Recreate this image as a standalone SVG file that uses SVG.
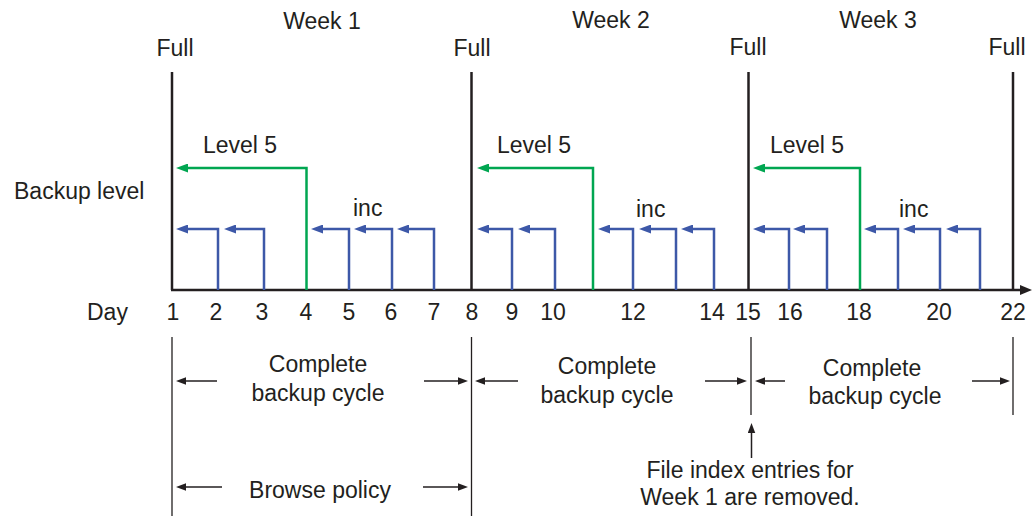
<svg xmlns="http://www.w3.org/2000/svg" width="1034" height="516" viewBox="0 0 1034 516">
<style>
text{font-family:"Liberation Sans",Arial,sans-serif;font-size:23px;fill:#231f20}
.m{text-anchor:middle}
.full{stroke:#231f20;stroke-width:2.5;fill:none}
.thin{stroke:#231f20;stroke-width:1.3;fill:none}
.g{stroke:#00a651;stroke-width:2.5;fill:none}
.b{stroke:#3d58a8;stroke-width:2.5;fill:none}
.sa{stroke:#231f20;stroke-width:1.5;fill:none}
</style>
<defs>
<marker id="ag" markerUnits="userSpaceOnUse" markerWidth="13" markerHeight="9" refX="2" refY="4.5" orient="auto"><path d="M0,0 L12,4.5 L0,9 z" fill="#00a651"/></marker>
<marker id="ab" markerUnits="userSpaceOnUse" markerWidth="13" markerHeight="9" refX="2" refY="4.5" orient="auto"><path d="M0,0 L12,4.5 L0,9 z" fill="#3d58a8"/></marker>
<marker id="ak" markerUnits="userSpaceOnUse" markerWidth="11" markerHeight="8" refX="1" refY="3.75" orient="auto"><path d="M0,0 L10,3.75 L0,7.5 z" fill="#231f20"/></marker>
<marker id="ax" markerUnits="userSpaceOnUse" markerWidth="13" markerHeight="10" refX="1" refY="5" orient="auto"><path d="M0,0 L12,5 L0,10 z" fill="#231f20"/></marker>
</defs>

<g id="labels">
<text class="m" x="322" y="29">Week 1</text>
<text class="m" x="611" y="28">Week 2</text>
<text class="m" x="878" y="28">Week 3</text>
<text class="m" x="175" y="56">Full</text>
<text class="m" x="472" y="56">Full</text>
<text class="m" x="748" y="55">Full</text>
<text class="m" x="1007" y="55">Full</text>
<text x="14" y="199">Backup level</text>
<text x="87" y="320">Day</text>
</g>

<g id="day-labels">
<text class="m" x="173" y="320">1</text>
<text class="m" x="216" y="320">2</text>
<text class="m" x="262" y="320">3</text>
<text class="m" x="306" y="320">4</text>
<text class="m" x="349" y="320">5</text>
<text class="m" x="391" y="320">6</text>
<text class="m" x="434" y="320">7</text>
<text class="m" x="472" y="320">8</text>
<text class="m" x="512" y="320">9</text>
<text class="m" x="553" y="320">10</text>
<text class="m" x="633" y="320">12</text>
<text class="m" x="712" y="320">14</text>
<text class="m" x="748" y="320">15</text>
<text class="m" x="790" y="320">16</text>
<text class="m" x="859" y="320">18</text>
<text class="m" x="939" y="320">20</text>
<text class="m" x="1013" y="320">22</text>
</g>

<g id="axis">
<line class="full" x1="171" y1="290" x2="1021" y2="290" marker-end="url(#ax)"/>
<line class="full" x1="172" y1="72" x2="172" y2="290"/>
<line class="full" x1="471.5" y1="72" x2="471.5" y2="290"/>
<line class="full" x1="748.5" y1="72" x2="748.5" y2="290"/>
<line class="full" x1="1013" y1="72" x2="1013" y2="290"/>
</g>

<g id="week1">
<text x="203" y="153">Level 5</text>
<text x="353" y="216">inc</text>
<path class="g" d="M306.5,290 V168 H186" marker-end="url(#ag)"/>
<path class="b" d="M218,290 V229 H186" marker-end="url(#ab)"/>
<path class="b" d="M264,290 V229 H234" marker-end="url(#ab)"/>
<path class="b" d="M349,290 V229 H321" marker-end="url(#ab)"/>
<path class="b" d="M392,290 V229 H364" marker-end="url(#ab)"/>
<path class="b" d="M434,290 V229 H407" marker-end="url(#ab)"/>
</g>

<g id="week2">
<text x="497" y="153">Level 5</text>
<text x="636" y="217">inc</text>
<path class="g" d="M593,290 V168 H487" marker-end="url(#ag)"/>
<path class="b" d="M512,290 V229 H487" marker-end="url(#ab)"/>
<path class="b" d="M555,290 V229 H528" marker-end="url(#ab)"/>
<path class="b" d="M633,290 V229 H608" marker-end="url(#ab)"/>
<path class="b" d="M676,290 V229 H649" marker-end="url(#ab)"/>
<path class="b" d="M714,290 V229 H691" marker-end="url(#ab)"/>
</g>

<g id="week3">
<text x="770" y="153">Level 5</text>
<text x="899" y="217">inc</text>
<path class="g" d="M860,290 V168 H763" marker-end="url(#ag)"/>
<path class="b" d="M789,290 V229 H763" marker-end="url(#ab)"/>
<path class="b" d="M827,290 V229 H803" marker-end="url(#ab)"/>
<path class="b" d="M898,290 V229 H874" marker-end="url(#ab)"/>
<path class="b" d="M940,290 V229 H913" marker-end="url(#ab)"/>
<path class="b" d="M980,290 V229 H956" marker-end="url(#ab)"/>
</g>

<g id="cycles">
<line class="thin" x1="172" y1="337" x2="172" y2="516"/>
<line class="thin" x1="471.5" y1="337" x2="471.5" y2="516"/>
<line class="thin" x1="751" y1="337" x2="751" y2="415"/>
<line class="thin" x1="1013" y1="337" x2="1013" y2="415"/>
<text class="m" x="318" y="372">Complete</text>
<text class="m" x="318" y="401">backup cycle</text>
<text class="m" x="607" y="374">Complete</text>
<text class="m" x="607" y="403">backup cycle</text>
<text class="m" x="872" y="376">Complete</text>
<text class="m" x="875" y="404">backup cycle</text>
<text class="m" x="320" y="498">Browse policy</text>
<text class="m" x="750" y="478">File index entries for</text>
<text class="m" x="750" y="505">Week 1 are removed.</text>
</g>

<g id="connectors">
<line class="sa" x1="217" y1="381" x2="185" y2="381" marker-end="url(#ak)"/>
<line class="sa" x1="424" y1="381" x2="459" y2="381" marker-end="url(#ak)"/>
<line class="sa" x1="518" y1="381" x2="484" y2="381" marker-end="url(#ak)"/>
<line class="sa" x1="705" y1="381" x2="738" y2="381" marker-end="url(#ak)"/>
<line class="sa" x1="785" y1="381" x2="764" y2="381" marker-end="url(#ak)"/>
<line class="sa" x1="972" y1="381" x2="1001" y2="381" marker-end="url(#ak)"/>
<line class="sa" x1="222" y1="487" x2="185" y2="487" marker-end="url(#ak)"/>
<line class="sa" x1="423" y1="487" x2="459" y2="487" marker-end="url(#ak)"/>
<line class="sa" x1="751.5" y1="458" x2="751.5" y2="432" marker-end="url(#ak)"/>
</g>
</svg>
